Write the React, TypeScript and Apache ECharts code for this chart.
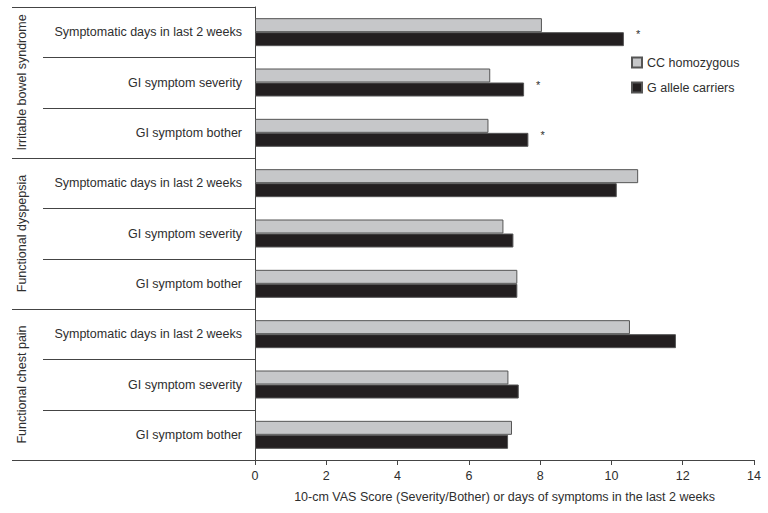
import React, { useEffect, useRef } from "react";
import * as echarts from "echarts";

const categories = [
  "Symptomatic days in last 2 weeks",
  "GI symptom severity",
  "GI symptom bother",
  "Symptomatic days in last 2 weeks",
  "GI symptom severity",
  "GI symptom bother",
  "Symptomatic days in last 2 weeks",
  "GI symptom severity",
  "GI symptom bother",
];
const groups = ["Irritable bowel syndrome", "Functional dyspepsia", "Functional chest pain"];
const ccValues = [8.05, 6.6, 6.55, 10.75, 6.97, 7.36, 10.52, 7.11, 7.21];
const gValues = [10.35, 7.55, 7.67, 10.15, 7.25, 7.36, 11.81, 7.4, 7.1];
const significant = [true, true, true, false, false, false, false, false, false];
const xTicks = [0, 2, 4, 6, 8, 10, 12, 14];
const seriesNames = ["CC homozygous", "G allele carriers"];
const xAxisTitle = "10-cm VAS Score (Severity/Bother) or days of symptoms in the last 2 weeks";

const W = 768;
const H = 513;
const GRID_LEFT = 255;
const GRID_TOP = 7;
const GRID_RIGHT = 14;
const GRID_BOTTOM = 53;
const FONT = "'Liberation Sans', Arial, sans-serif";
const FS = 12.5;
const TXT = "#2e2e2e";

export default function App() {
  const ref = useRef<HTMLDivElement>(null);
  useEffect(() => {
    if (!ref.current) return;
    const chart = echarts.init(ref.current, undefined, { renderer: "svg" });
    const plotBottom = H - GRID_BOTTOM;
    const band = (plotBottom - GRID_TOP) / categories.length;
    const graphics: any[] = [];
    for (let k = 0; k <= categories.length; k++) {
      const y = Math.round(GRID_TOP + k * band) + 0.5;
      const isGroup = k % 3 === 0;
      graphics.push({
        type: "line",
        shape: { x1: isGroup ? 12 : 43, y1: y, x2: GRID_LEFT, y2: y },
        style: { stroke: "#444", lineWidth: 1 },
        silent: true,
      });
    }
    groups.forEach((g, i) => {
      graphics.push({
        type: "text",
        x: 22,
        y: GRID_TOP + (i * 3 + 1.5) * band,
        rotation: Math.PI / 2,
        style: {
          text: g,
          font: `${FS}px ${FONT}`,
          fill: TXT,
          textAlign: "center",
          textVerticalAlign: "middle",
        },
        silent: true,
      });
    });

    const option: any = {
      animation: false,
      textStyle: { fontFamily: FONT },
      grid: { left: GRID_LEFT, top: GRID_TOP, right: GRID_RIGHT, bottom: GRID_BOTTOM, containLabel: false },
      legend: {
        data: seriesNames,
        orient: "vertical",
        left: 626,
        top: 51,
        itemWidth: 10,
        itemHeight: 10,
        itemGap: 12,
        icon: "rect",
        textStyle: { fontSize: FS, color: TXT, fontFamily: FONT },
      },
      xAxis: {
        type: "value",
        min: 0,
        max: 14,
        interval: 2,
        name: xAxisTitle,
        nameLocation: "middle",
        nameGap: 30,
        nameTextStyle: { fontSize: FS, color: TXT, fontFamily: FONT },
        axisLine: { show: true, lineStyle: { color: "#444", width: 1 } },
        axisTick: { show: true, length: 5, lineStyle: { color: "#444" } },
        axisLabel: {
          fontSize: FS,
          color: TXT,
          margin: 9,
          formatter: (v: number) => (xTicks.includes(v) ? String(v) : ""),
        },
        splitLine: { show: false },
      },
      yAxis: {
        type: "category",
        data: categories,
        inverse: true,
        axisLine: { show: true, lineStyle: { color: "#444", width: 1 } },
        axisTick: { show: false },
        axisLabel: { fontSize: FS, color: TXT, margin: 13, fontFamily: FONT },
        splitLine: { show: false },
      },
      series: [
        {
          name: seriesNames[0],
          type: "bar",
          barWidth: 14,
          barGap: "0%",
          data: ccValues,
          itemStyle: { color: "#c6c7c9", borderColor: "#555", borderWidth: 1 },
        },
        {
          name: seriesNames[1],
          type: "bar",
          barWidth: 14,
          barGap: "0%",
          data: gValues.map((v, i) => ({
            value: v,
            label: significant[i]
              ? {
                  show: true,
                  position: "right",
                  formatter: "*",
                  offset: [7, -5],
                  fontSize: 11,
                  color: TXT,
                }
              : { show: false },
          })),
          itemStyle: { color: "#231f20", borderColor: "#555", borderWidth: 1 },
        },
      ],
      graphic: graphics,
    };
    chart.setOption(option);
    return () => chart.dispose();
  }, []);
  return (
    <div
      ref={ref}
      style={{ position: "fixed", left: 0, top: 0, width: W, height: H, background: "#fff" }}
    />
  );
}
